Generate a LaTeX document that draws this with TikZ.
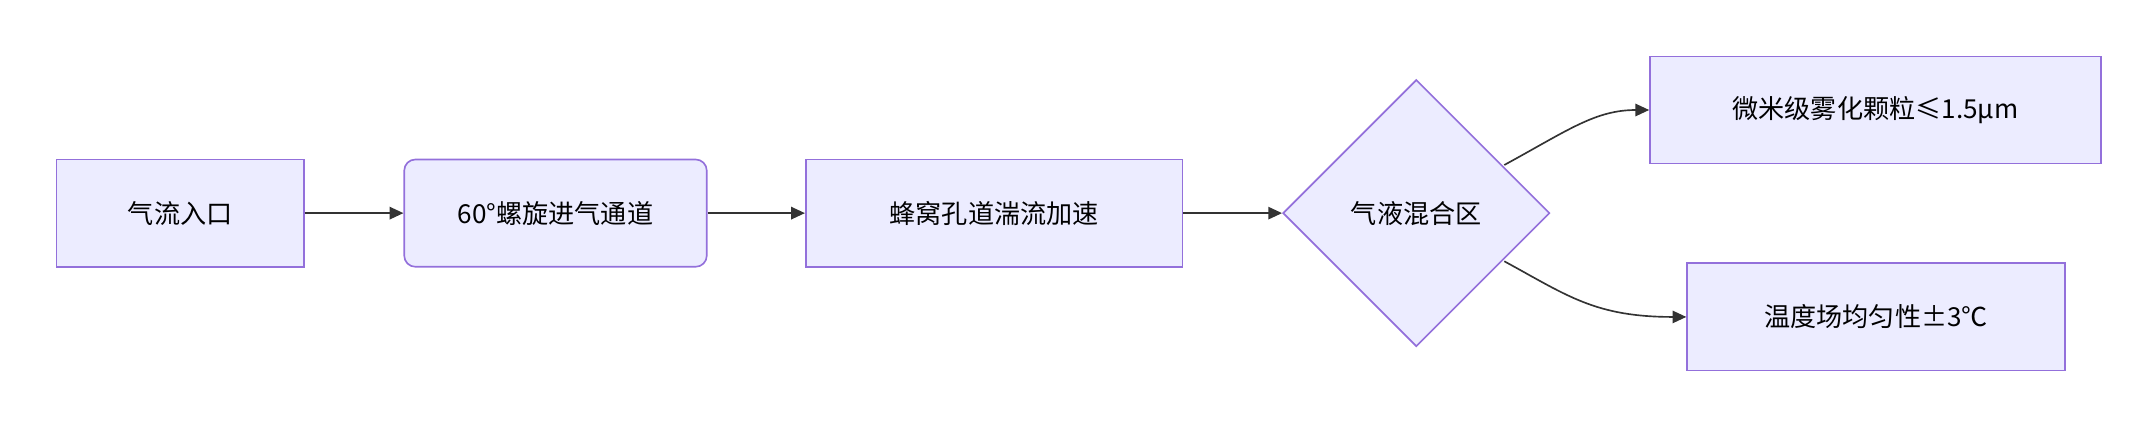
\documentclass[tikz,border=0pt]{standalone}
\usepackage{fontspec}
\setmainfont{Noto Sans CJK SC}
\usetikzlibrary{shapes.geometric,arrows.meta}
\begin{document}
\begin{tikzpicture}[x=1pt,y=-1pt,
  box/.style={draw=#1,fill=boxfill,line width=1.2pt,minimum height=78pt,font=\fontsize{19}{22}\selectfont,inner sep=0pt},
  box/.default={boxline},
  conn/.style={draw=arrowc,line width=1.2pt,-{Triangle[length=10pt,width=9pt]}}]
\definecolor{boxfill}{HTML}{ECECFF}
\definecolor{boxline}{HTML}{9370DB}
\definecolor{arrowc}{HTML}{333333}
\useasboundingbox (0,0) rectangle (1568,311);
\node[box,minimum width=180pt] (a) at (131,155) {气流入口};
\node[box,minimum width=220pt,rounded corners=8pt] (b) at (404,155) {60°螺旋进气通道};
\node[box,minimum width=274pt] (c) at (723,155) {蜂窝孔道湍流加速};
\node[draw=boxline,fill=boxfill,line width=1.2pt,diamond,minimum width=194pt,minimum height=194pt,inner sep=0pt,font=\fontsize{19}{22}\selectfont] (d) at (1030,155) {气液混合区};
\node[box,minimum width=328pt] (e) at (1364,80) {微米级雾化颗粒≤1.5μm};
\node[box,minimum width=275pt] (f) at (1364.5,230.5) {温度场均匀性±3℃};
\draw[conn] (a) -- (b);
\draw[conn] (b) -- (c);
\draw[conn] (c) -- (d);
\coordinate (d1) at (1094,120);
\coordinate (d2) at (1094,190);
\draw[conn] (d1) .. controls (1140,95) and (1160,80) .. (e.west);
\draw[conn] (d2) .. controls (1140,215) and (1160,230.5) .. (f.west);
\end{tikzpicture}
\end{document}
